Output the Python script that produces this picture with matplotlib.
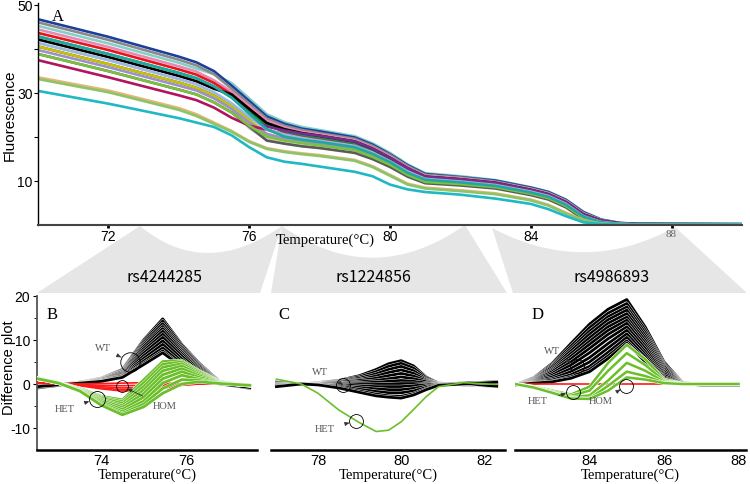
import numpy as np
import matplotlib.pyplot as plt
from matplotlib.path import Path
from matplotlib.patches import PathPatch
import matplotlib.patheffects as pe

plt.rcParams["font.family"] = ["Liberation Sans", "DejaVu Sans"]

# ---------------- data: melting curves (panel A) ----------------
t_melt = [70, 72, 74, 74.5, 75, 75.5, 76, 76.5, 77, 77.5, 78, 79, 79.5, 80, 80.5, 81,
          82, 83, 84, 84.5, 85, 85.5, 86, 86.5, 87, 90]

melt_colors = ["#84d0c8", "#1d3f9c", "#8a8a8a", "#e48bb4", "#e8141c", "#1b8a4a",
               "#000000", "#cfcfcf", "#7a2a8c", "#c4c400", "#9c90cc", "#5a5a5a",
               "#b2145e", "#9ab8e0", "#7cc040", "#20a8a0",
               "#e3b778", "#8cc46a", "#1fb8c3"]
melt_curves = [
    [45.3, 41.3, 36.9, 35.6, 34.3, 32.3, 28.8, 25.2, 23.4, 22.3, 21.6, 20.2, 18.6, 16.4, 13.8, 11.8, 11.1, 10.2, 8.6, 7.6, 5.8, 3.0, 1.3, 0.5, 0.25, 0.2],
    [46.8, 42.8, 38.3, 37.0, 35.0, 31.7, 28.2, 24.7, 23.0, 21.9, 21.3, 19.9, 18.3, 16.1, 13.6, 11.6, 10.9, 10.1, 8.5, 7.5, 5.7, 2.9, 1.2, 0.5, 0.24, 0.19],
    [46.1, 42.1, 37.6, 36.3, 34.3, 31.0, 27.6, 24.2, 22.6, 21.6, 20.9, 19.6, 18.0, 15.9, 13.4, 11.4, 10.8, 9.9, 8.3, 7.3, 5.5, 2.7, 1.1, 0.4, 0.23, 0.18],
    [44.5, 40.5, 36.1, 34.9, 32.9, 30.3, 27.0, 23.7, 22.2, 21.2, 20.6, 19.3, 17.7, 15.6, 13.1, 11.2, 10.6, 9.7, 8.2, 7.2, 5.4, 2.6, 1.1, 0.4, 0.21, 0.17],
    [43.7, 39.8, 35.4, 34.2, 32.3, 29.7, 26.4, 23.2, 21.0, 20.1, 19.6, 18.3, 16.8, 14.8, 12.4, 10.7, 10.1, 9.3, 7.7, 6.7, 4.9, 2.2, 0.8, 0.3, 0.17, 0.15],
    [42.9, 38.9, 34.6, 33.4, 31.5, 29.0, 25.7, 22.7, 21.3, 20.5, 19.9, 18.6, 17.1, 15.1, 12.6, 10.8, 10.2, 9.4, 7.8, 6.8, 5.0, 2.3, 0.9, 0.3, 0.19, 0.16],
    [42.2, 38.2, 33.9, 32.7, 31.0, 29.7, 26.4, 23.2, 21.8, 20.9, 20.3, 19.0, 17.4, 15.3, 12.9, 11.0, 10.4, 9.6, 8.0, 7.0, 5.2, 2.4, 1.0, 0.4, 0.2, 0.17],
    [41.4, 37.5, 33.2, 32.0, 30.0, 26.5, 22.0, 19.5, 18.6, 18.0, 17.6, 16.6, 15.3, 13.5, 11.2, 9.7, 9.2, 8.5, 7.0, 6.0, 4.2, 1.5, 0.4, 0.15, 0.1, 0.1],
    [40.6, 36.6, 32.4, 31.2, 29.4, 27.0, 24.5, 22.4, 21.5, 20.8, 20.3, 19.0, 17.4, 15.3, 12.9, 11.0, 10.4, 9.6, 8.0, 7.0, 5.2, 2.4, 1.0, 0.4, 0.2, 0.17],
    [40.6, 36.6, 32.4, 31.2, 29.4, 27.0, 23.9, 20.7, 19.7, 19.0, 18.5, 17.4, 15.9, 14.0, 11.7, 10.1, 9.5, 8.8, 7.3, 6.3, 4.5, 1.7, 0.6, 0.2, 0.14, 0.12],
    [39.8, 35.9, 31.7, 30.6, 28.8, 26.4, 23.3, 20.7, 19.7, 19.0, 18.5, 17.4, 15.9, 14.0, 11.7, 10.1, 9.5, 8.8, 7.3, 6.3, 4.5, 1.7, 0.6, 0.2, 0.14, 0.12],
    [38.9, 35.0, 30.8, 29.7, 27.9, 25.6, 22.4, 19.2, 18.5, 17.9, 17.5, 16.4, 15.0, 13.2, 11.0, 9.5, 9.0, 8.3, 6.8, 5.8, 4.0, 1.3, 0.3, 0.1, 0.1, 0.1],
    [37.5, 33.6, 29.5, 28.4, 26.7, 24.4, 22.6, 21.7, 20.6, 19.8, 19.2, 18.0, 16.5, 14.5, 12.2, 10.5, 9.9, 9.1, 7.6, 6.6, 4.8, 2.0, 0.7, 0.3, 0.16, 0.14],
    [41.4, 37.5, 33.2, 32.0, 30.2, 27.7, 24.6, 21.7, 20.6, 19.8, 19.2, 18.0, 16.5, 14.5, 12.2, 10.5, 9.9, 9.1, 7.6, 6.6, 4.8, 2.0, 0.7, 0.3, 0.16, 0.14],
    [38.9, 35.0, 30.8, 29.7, 27.9, 25.6, 22.6, 20.1, 19.2, 18.6, 18.1, 17.0, 15.5, 13.7, 11.4, 9.8, 9.3, 8.6, 7.1, 6.1, 4.3, 1.6, 0.5, 0.2, 0.12, 0.11],
    [42.9, 38.9, 34.6, 33.4, 31.5, 29.0, 25.3, 21.8, 20.1, 19.4, 18.9, 17.7, 16.2, 14.3, 11.9, 10.3, 9.7, 8.9, 7.4, 6.4, 4.6, 1.9, 0.6, 0.2, 0.15, 0.13],
    [33.6, 30.6, 26.6, 25.2, 23.3, 21.4, 19.1, 17.5, 16.8, 16.3, 15.9, 14.8, 13.4, 11.4, 9.4, 8.5, 7.9, 7.2, 5.8, 4.6, 2.8, 1.1, 0.3, 0.1, 0.1, 0.1],
    [33.2, 30.2, 26.2, 24.8, 23.0, 21.2, 18.9, 17.3, 16.6, 16.1, 15.7, 14.6, 13.2, 11.2, 9.2, 8.3, 7.7, 7.0, 5.6, 4.4, 2.6, 1.0, 0.3, 0.1, 0.1, 0.1],
    [30.5, 27.6, 24.3, 23.3, 22.3, 20.4, 17.7, 15.4, 14.4, 13.9, 13.3, 12.1, 11.1, 9.2, 8.1, 7.5, 6.9, 6.0, 4.8, 3.6, 2.0, 0.6, 0.2, 0.1, 0.1, 0.1],
]

# ---------------- data: difference plots ----------------
t_b = [72.5, 73.0, 73.5, 74.0, 74.5, 75.0, 75.45, 75.9, 76.3, 76.8, 77.5]
wt_b = [
    [-0.7, -0.2, 0.4, 1.3, 3.3, 10.0, 14.8, 9.0, 4.8, 0.5, -0.8],
    [-0.6, -0.2, 0.4, 1.2, 3.2, 9.7, 14.3, 8.8, 4.6, 0.4, -0.7],
    [-0.8, -0.3, 0.3, 1.2, 3.0, 9.3, 13.7, 8.4, 4.4, 0.4, -0.9],
    [-0.5, -0.1, 0.4, 1.1, 2.9, 8.9, 13.1, 8.0, 4.2, 0.3, -0.6],
    [-0.7, -0.2, 0.3, 1.1, 2.8, 8.5, 12.6, 7.6, 3.9, 0.3, -0.8],
    [-0.6, -0.2, 0.3, 1.0, 2.6, 8.0, 12.0, 7.2, 3.6, 0.2, -0.7],
    [-0.9, -0.3, 0.2, 1.0, 2.5, 7.5, 11.3, 6.8, 3.3, 0.2, -1.0],
    [-0.5, -0.1, 0.3, 0.9, 2.3, 7.0, 10.6, 6.3, 3.0, 0.1, -0.6],
    [-0.7, -0.2, 0.2, 0.8, 2.1, 6.4, 9.8, 5.7, 2.7, 0.1, -0.8],
    [-0.6, -0.2, 0.2, 0.8, 1.9, 5.8, 9.0, 5.1, 2.3, 0.0, -0.7],
    [-0.8, -0.3, 0.2, 0.7, 1.8, 5.2, 8.2, 4.6, 2.0, 0.0, -0.9],
    [-0.5, -0.1, 0.2, 0.6, 1.6, 4.7, 7.5, 4.1, 1.8, 0.0, -0.6],
    [-0.6, -0.2, 0.2, 0.6, 1.5, 4.4, 7.1, 3.9, 1.6, 0.0, -0.8],
]
hom_b = [
    [0.3, 0.1, -0.1, -0.3, -0.4, -0.3, -0.1, 0.0, 0.0, 0.0, 0.0],
    [0.3, 0.1, -0.2, -0.6, -0.9, -0.8, -0.4, -0.1, 0.0, 0.0, 0.0],
    [0.3, 0.0, -0.3, -0.9, -1.3, -1.2, -0.7, -0.2, 0.0, 0.0, 0.0],
    [0.2, 0.0, -0.4, -1.1, -1.6, -1.5, -1.0, -0.3, 0.0, 0.0, 0.0],
    [0.2, 0.1, 0.0, 0.1, 0.2, 0.3, 0.2, 0.1, 0.0, 0.0, 0.0],
]
het_b = [
    [1.4, 0.3, -1.0, -2.8, -3.6, 0.9, 5.1, 5.3, 3.0, 0.5, -0.3],
    [1.3, 0.3, -1.1, -3.0, -4.0, 0.2, 4.5, 5.0, 2.8, 0.5, -0.3],
    [1.4, 0.2, -1.2, -3.2, -4.4, -0.6, 3.8, 4.6, 2.5, 0.4, -0.4],
    [1.3, 0.2, -1.3, -3.5, -4.9, -1.4, 3.0, 4.1, 2.2, 0.4, -0.3],
    [1.2, 0.2, -1.3, -3.7, -5.3, -2.2, 2.1, 3.5, 1.9, 0.3, -0.3],
    [1.3, 0.2, -1.4, -4.0, -5.8, -3.0, 1.2, 2.8, 1.5, 0.3, -0.4],
    [1.2, 0.2, -1.5, -4.3, -6.3, -3.9, 0.2, 2.0, 1.1, 0.2, -0.3],
    [1.2, 0.2, -1.6, -4.6, -6.7, -4.6, -1.0, 1.0, 0.8, 0.1, -0.3],
    [1.2, 0.2, -1.6, -4.8, -7.0, -5.2, -2.1, 0.0, 0.5, 0.1, -0.3],
]

t_c = [77.0, 77.6, 78.0, 78.5, 79.0, 79.4, 79.7, 80.0, 80.3, 80.6, 80.9, 81.5, 82.3]
wt_c = [
    [0.4, 0.0, 0.3, 0.8, 1.9, 3.3, 4.6, 5.3, 4.1, 1.6, 0.2, -0.2, -0.5],
    [0.3, 0.0, 0.2, 0.7, 1.6, 2.8, 4.0, 4.7, 3.6, 1.4, 0.2, -0.1, -0.4],
    [0.4, 0.0, 0.2, 0.6, 1.3, 2.3, 3.3, 4.0, 3.0, 1.1, 0.1, -0.1, -0.3],
    [0.2, 0.0, 0.1, 0.5, 1.0, 1.8, 2.6, 3.2, 2.4, 0.9, 0.1, 0.0, -0.2],
    [0.3, 0.0, 0.1, 0.4, 0.8, 1.3, 1.9, 2.4, 1.8, 0.7, 0.1, 0.0, 0.2],
    [0.1, 0.0, 0.1, 0.2, 0.5, 0.8, 1.2, 1.6, 1.2, 0.5, 0.0, 0.1, 0.3],
    [0.0, 0.0, 0.0, 0.1, 0.2, 0.4, 0.6, 0.8, 0.6, 0.2, 0.0, 0.1, 0.4],
    [-0.1, 0.0, 0.0, 0.0, -0.1, -0.1, 0.0, 0.1, 0.1, 0.0, 0.0, 0.2, 0.5],
    [-0.2, 0.0, -0.1, -0.2, -0.4, -0.6, -0.6, -0.6, -0.4, -0.2, 0.0, 0.0, 0.3],
    [-0.3, 0.0, -0.1, -0.4, -0.8, -1.1, -1.3, -1.3, -1.0, -0.5, -0.1, 0.0, -0.3],
    [-0.4, 0.0, -0.1, -0.5, -1.2, -1.7, -2.0, -2.0, -1.6, -0.8, -0.1, 0.1, -0.4],
    [-0.5, 0.0, -0.2, -0.7, -1.6, -2.3, -2.7, -2.8, -2.2, -1.1, -0.2, 0.1, -0.5],
    [-0.6, 0.0, -0.2, -0.9, -1.9, -2.7, -3.0, -3.2, -2.5, -1.3, -0.3, 0.0, 0.4],
]
het_c = [1.1, 0.0, -2.1, -5.9, -8.8, -10.8, -10.5, -8.6, -5.8, -2.9, -0.6, 0.3, -0.1]

t_d = [82.0, 82.5, 83.0, 83.5, 84.0, 84.5, 85.0, 85.5, 86.0, 86.5, 87.0, 88.0]
wt_d = [
    [-0.2, 1.4, 4.7, 9.2, 13.6, 17.0, 19.2, 12.9, 5.0, 0.3, -0.2, -0.1],
    [-0.2, 1.3, 4.4, 8.6, 12.8, 16.1, 18.3, 12.2, 4.6, 0.3, -0.1, -0.2],
    [-0.1, 1.2, 4.1, 8.0, 12.0, 15.3, 17.5, 11.6, 4.3, 0.3, -0.2, -0.1],
    [-0.2, 1.1, 3.8, 7.5, 11.3, 14.6, 16.8, 11.0, 4.0, 0.2, -0.2, -0.2],
    [-0.1, 1.0, 3.4, 6.9, 10.5, 13.8, 16.0, 10.4, 3.6, 0.2, -0.1, -0.1],
    [-0.2, 0.9, 3.1, 6.3, 9.7, 13.0, 15.2, 9.8, 3.2, 0.2, -0.2, -0.2],
    [-0.1, 0.8, 2.8, 5.7, 9.0, 12.2, 14.5, 9.2, 2.8, 0.1, -0.1, -0.1],
    [-0.2, 0.7, 2.4, 5.0, 8.1, 11.3, 13.8, 8.6, 2.4, 0.1, -0.2, -0.2],
    [-0.1, 0.6, 2.0, 4.3, 7.1, 10.3, 13.0, 8.0, 2.0, 0.1, -0.1, -0.1],
    [-0.2, 0.5, 1.6, 3.5, 6.0, 9.2, 12.2, 7.3, 1.6, 0.0, -0.2, -0.2],
    [-0.1, 0.4, 1.2, 2.8, 5.0, 8.2, 11.4, 6.7, 1.3, 0.0, -0.1, -0.1],
    [-0.2, 0.3, 0.9, 2.1, 4.0, 7.2, 10.6, 6.1, 1.0, 0.0, -0.2, -0.2],
    [-0.1, 0.2, 0.6, 1.6, 3.3, 6.4, 9.8, 5.5, 0.7, 0.0, -0.1, -0.1],
    [-0.2, 0.2, 0.5, 1.3, 2.8, 5.8, 9.3, 5.0, 0.5, 0.0, -0.2, -0.2],
]
het_d = [
    [0.0, -0.6, -1.5, -2.4, -0.6, 4.8, 8.9, 5.6, 1.0, 0.0, 0.0, 0.0],
    [0.0, -0.7, -1.7, -2.7, -1.5, 3.0, 7.0, 4.3, 0.7, 0.0, 0.0, 0.0],
    [0.0, -0.7, -1.8, -3.0, -2.6, 0.8, 4.8, 3.0, 0.5, 0.0, 0.0, 0.0],
    [0.0, -0.8, -2.0, -3.2, -3.3, -0.4, 2.8, 1.8, 0.3, 0.0, 0.0, 0.0],
    [0.0, -0.8, -2.0, -3.3, -3.4, -1.5, 1.5, 1.0, 0.2, 0.0, 0.0, 0.0],
]
t_hom_d = [82.0, 86.8]
hom_d = [0.0, 0.0]

snp_names = ["rs4244285", "rs1224856", "rs4986893"]

# ---------------- layout helpers (pixel -> figure fraction) ----------------
W, H = 750, 484


def rect(left, top, right, bottom):
    return [left / W, 1 - bottom / H, (right - left) / W, (bottom - top) / H]


def fpt(x, y):
    return (x / W, 1 - y / H)


serif = ["Liberation Serif", "DejaVu Serif"]
WT_COLOR = "black"
HET_COLOR = "#6bbf2a"
HOM_COLOR = "#ff1a1a"
outline = [pe.Stroke(linewidth=2.6, foreground="white"), pe.Normal()]

fig = plt.figure(figsize=(7.5, 4.84), dpi=100)

# gray zoom wedges between the panels
wedges = [
    [(37, 293), (140, 226), (205, 280), (282, 226), (260, 293)],
    [(271, 293), (282, 226), (373, 290), (465, 225), (507, 293)],
    [(513, 293), (492, 228), (585, 277), (675, 227), (747, 293)],
]
for pts in wedges:
    verts = [fpt(*p) for p in pts] + [fpt(*pts[0])]
    codes = [Path.MOVETO, Path.LINETO, Path.CURVE3, Path.CURVE3, Path.LINETO, Path.CLOSEPOLY]
    patch = PathPatch(Path(verts, codes), facecolor="#e6e6e6", edgecolor="none",
                      transform=fig.transFigure, zorder=0)
    fig.add_artist(patch)

title_x = [165, 373, 612]
for name, px in zip(snp_names, title_x):
    fig.text(px / W, 1 - 278 / H, name, ha="center", va="center", fontsize=11.5,
             family=["Noto Sans CJK SC", "DejaVu Sans"])

# ---------------- panel A ----------------
ax_a = fig.add_axes(rect(38, 3, 742, 225))
for c, vals in zip(melt_colors, melt_curves):
    ax_a.plot(t_melt, vals, color=c, lw=1.9, solid_joinstyle="round")
ax_a.set_xlim(70, 90)
ax_a.set_ylim(0, 50.5)
ax_a.spines["top"].set_visible(False)
ax_a.spines["right"].set_visible(False)
ax_a.spines["bottom"].set_color("#444444")
ax_a.spines["bottom"].set_linewidth(1.5)
ax_a.spines["left"].set_linewidth(1.0)
ax_a.set_yticks([10, 20, 30, 40, 50])
ax_a.set_yticklabels(["10", "", "30", "", "50"], fontsize=10)
ax_a.tick_params(axis="y", length=3, width=0.8, pad=1)
ax_a.set_xticks([72, 76, 80, 84, 88])
ax_a.set_xticklabels(["72", "76", "80", "84", "88"], fontsize=10)
ax_a.tick_params(axis="x", length=2.5, width=2, pad=1)
lab88 = ax_a.get_xticklabels()[-1]
lab88.set_family(serif)
lab88.set_fontsize(8)
lab88.set_color("#666666")
ax_a.text(0.02, 0.975, "A", transform=ax_a.transAxes, family=serif, fontsize=12,
          va="top", ha="left")
fig.text(10 / W, 1 - 115 / H, "Fluorescence", rotation=90, ha="center", va="center",
         fontsize=11)
fig.text(325 / W, 1 - 240 / H, "Temperature(°C)", ha="center", va="center",
         family=serif, fontsize=10.5)
fig.text(9 / W, 1 - 368 / H, "Difference plot", rotation=90, ha="center", va="center",
         fontsize=10.5)


def style_diff(ax, show_left):
    ax.set_ylim(-15, 20)
    ax.spines["top"].set_visible(False)
    ax.spines["right"].set_visible(False)
    ax.spines["bottom"].set_linewidth(1.8)
    if show_left:
        ax.spines["left"].set_linewidth(1.3)
        ax.spines["left"].set_color("#555555")
        ax.set_yticks([-10, 0, 10, 20])
        ax.set_yticklabels(["-10", "0", "10", "20"], fontsize=10)
        ax.set_yticks([-5, 5, 15], minor=True)
        ax.tick_params(axis="y", which="major", length=3, width=0.8, pad=2)
        ax.tick_params(axis="y", which="minor", length=2, width=0.6)
    else:
        ax.spines["left"].set_visible(False)
        ax.set_yticks([])
    ax.tick_params(axis="x", length=0, pad=3, labelsize=10.5)
    ax.patch.set_alpha(0)


def annotate(ax, label, text_xy, circ_xy, ms):
    ax.plot(*circ_xy, "o", mfc="none", mec="black", ms=ms, mew=0.6, zorder=6)
    ax.annotate(label, xy=circ_xy, xytext=text_xy, ha="center", va="center",
                fontsize=7.5, family=serif, color="#555555", zorder=6,
                arrowprops=dict(arrowstyle="-|>,head_length=0.35,head_width=0.15",
                                color="#333333", lw=0.6, shrinkA=6, shrinkB=ms / 2))


# ---------------- panel B ----------------
ax_b = fig.add_axes(rect(37, 296, 257, 450))
for vals in wt_b:
    ax_b.plot(t_b, vals, color=WT_COLOR, lw=2.0, path_effects=outline, zorder=2)
for vals in hom_b:
    ax_b.plot(t_b, vals, color=HOM_COLOR, lw=1.2, zorder=3)
for vals in het_b:
    ax_b.plot(t_b, vals, color=HET_COLOR, lw=2.0, path_effects=outline, zorder=4)
ax_b.set_xlim(72.49, 77.67)
style_diff(ax_b, True)
ax_b.set_xticks([74, 76])
ax_b.text(0.045, 0.93, "B", transform=ax_b.transAxes, family=serif, fontsize=12,
          va="top")
annotate(ax_b, "WT", (74.04, 8.1), (74.68, 5.1), 14)
annotate(ax_b, "HET", (73.15, -5.7), (73.9, -3.4), 11.5)
annotate(ax_b, "HOM", (75.5, -5.2), (74.49, -0.45), 8.5)
ax_b.set_xlabel("Temperature(°C)", family=serif, fontsize=10.5, labelpad=0)

# ---------------- panel C ----------------
ax_c = fig.add_axes(rect(271, 296, 505, 450))
for vals in wt_c:
    ax_c.plot(t_c, vals, color=WT_COLOR, lw=2.0, path_effects=outline, zorder=2)
ax_c.plot(t_c, het_c, color=HET_COLOR, lw=1.2, zorder=4)
ax_c.set_xlim(76.87, 82.5)
style_diff(ax_c, False)
ax_c.set_xticks([78, 80, 82])
ax_c.text(0.03, 0.93, "C", transform=ax_c.transAxes, family=serif, fontsize=12,
          va="top")
annotate(ax_c, "WT", (78.05, 2.7), (78.61, -0.2), 10)
annotate(ax_c, "HET", (78.17, -10.3), (78.92, -8.4), 10)
ax_c.set_xlabel("Temperature(°C)", family=serif, fontsize=10.5, labelpad=0)

# ---------------- panel D ----------------
ax_d = fig.add_axes(rect(515, 296, 746, 450))
for vals in wt_d:
    ax_d.plot(t_d, vals, color=WT_COLOR, lw=2.0, path_effects=outline, zorder=2)
ax_d.plot(t_hom_d, hom_d, color=HOM_COLOR, lw=1.2, zorder=3)
for vals in het_d:
    ax_d.plot(t_d, vals, color=HET_COLOR, lw=1.8, path_effects=outline, zorder=4)
ax_d.set_xlim(82, 88.2)
style_diff(ax_d, False)
ax_d.set_xticks([84, 86, 88])
ax_d.text(0.07, 0.93, "D", transform=ax_d.transAxes, family=serif, fontsize=12,
          va="top")
annotate(ax_d, "WT", (82.99, 7.3), (83.66, 4.1), 10)
annotate(ax_d, "HET", (82.61, -3.9), (83.55, -1.75), 10)
annotate(ax_d, "HOM", (84.31, -4.0), (84.99, -0.4), 10)
ax_d.set_xlabel("Temperature(°C)", family=serif, fontsize=10.5, labelpad=0)

fig.savefig("out.png", dpi=100)
